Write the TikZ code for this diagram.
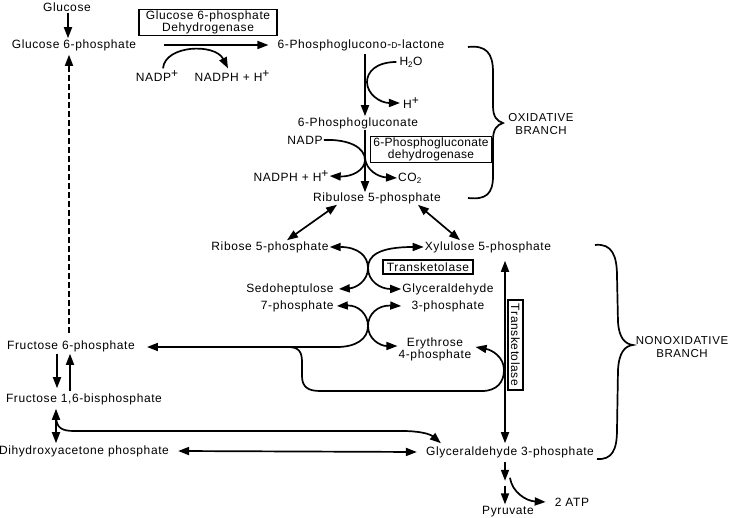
\documentclass[tikz,border=0pt]{standalone}
\usepackage{fontspec}
\setmainfont{Liberation Sans}[LetterSpace=5]
\usetikzlibrary{arrows.meta}
\newcommand\lbf{\fontsize{12}{14}\selectfont}
\newcommand\psup[1]{\raisebox{4pt}{\fontsize{12}{12}\selectfont #1}}
\tikzset{
  tip/.tip={Triangle[length=11pt,width=8pt]},
  ln/.style={line width=1.7pt},
  arr/.style={ln,-tip},
  darr/.style={ln,tip-tip},
  enz/.style={draw, line width=1.4pt, inner xsep=3pt, inner ysep=1.5pt, align=center},
  brl/.style={align=center, font=\fontsize{11.5}{13}\selectfont},
}
\begin{document}
\begin{tikzpicture}[x=1pt,y=-1pt, every node/.style={inner sep=1pt, font=\lbf}]
\useasboundingbox (0,0) rectangle (732,518);

% ---------- nodes ----------
\node (glc) at (67,7) {Glucose};
\node (g6p) at (74,45) {Glucose 6-phosphate};
\node[enz, minimum width=138pt, minimum height=25pt, font=\fontsize{12}{11.5}\selectfont] (g6pdh) at (208,22.5) {Glucose 6-phosphate\\Dehydrogenase};
\node (lac) at (361,45) {6-Phosphoglucono-{\fontsize{8.5}{9}\selectfont D}-lactone};
\node (nadp) at (157,76) {NADP\psup{+}};
\node (nadph1) at (232,76) {NADPH + H\psup{+}};
\node (h2o) at (411,62) {H\textsubscript{2}O};
\node (hp) at (411,103) {H\psup{+}};
\node (pg) at (358,123) {6-Phosphogluconate};
\node (nadp2) at (305,140) {NADP};
\node[enz, minimum width=118pt, minimum height=25pt, font=\fontsize{12}{10.5}\selectfont\addfontfeature{LetterSpace=2.5}] (pgdh) at (431,149.5) {6-Phosphogluconate\\dehydrogenase};
\node (nadph2) at (291,176) {NADPH + H\psup{+}};
\node (co2) at (410,178) {CO\textsubscript{2}};
\node (ru) at (377,198) {Ribulose 5-phosphate};
\node (rib) at (270,247) {Ribose 5-phosphate};
\node (xyl) at (488,247) {Xylulose 5-phosphate};
\node[enz, minimum width=90pt, minimum height=14pt] (tk1) at (428,267) {Transketolase};
\node[align=right, font=\fontsize{12}{17}\selectfont] (sedo) at (290,297.5) {Sedoheptulose\\7-phosphate};
\node[align=center, font=\fontsize{12}{17}\selectfont] (g3pa) at (448,297.5) {Glyceraldehyde\\3-phosphate};
\node[align=center, font=\fontsize{12}{11}\selectfont] (e4p) at (435,349) {Erythrose\\4-phosphate};
\node[enz, rotate=-90, minimum width=90pt, minimum height=15pt] (tk2) at (515.5,345) {Transketolase};
\node (f6p) at (71,346) {Fructose 6-phosphate};
\node (f16) at (84,399) {Fructose 1,6-bisphosphate};
\node (dhap) at (84,451) {Dihydroxyacetone phosphate};
\node (g3p) at (510,452) {Glyceraldehyde 3-phosphate};
\node (pyr) at (508,512) {Pyruvate};
\node (atp) at (572,502) {2 ATP};
\node[brl] (ox) at (541,124) {OXIDATIVE\\BRANCH};
\node[brl] (nonox) at (682,347) {NONOXIDATIVE\\BRANCH};

% ---------- oxidative branch ----------
\draw[arr] ([xshift=1]glc.south) -- ([xshift=1]glc.south |- g6p.north);
\draw[arr, dash pattern=on 6pt off 3pt] ([xshift=-2,yshift=6]f6p.north) -- ([xshift=-5,yshift=-3]g6p.south);
\draw[arr] ([xshift=27]g6p.east) -- ([xshift=-8]lac.west);
\draw[arr] ([xshift=6,yshift=1]nadp.north) .. controls (165,45) and (215,43) .. ([xshift=-4,yshift=1]nadph1.north);
\draw[arr] ([xshift=4,yshift=-2]lac.south) -- ([xshift=4]lac.south |- pg.north);
\draw[arr] ([xshift=-2]h2o.west) .. controls (376,62) and (367,72) .. (367,82)
  .. controls (367,94) and (380,103) .. ([xshift=-2]hp.west);
\draw[arr] ([xshift=7]pg.south) -- ([xshift=7,yshift=-1]pg.south |- ru.north);
\draw[arr] (nadp2.east) .. controls (350,139) and (365,148) .. (365,160)
  .. controls (365,170) and (352,177) .. (nadph2.east);
\draw[arr] (365,158) .. controls (366,170) and (378,177) .. (co2.west);

% ---------- nonoxidative branch ----------
\draw[darr] ([xshift=-40]ru.south) -- ([xshift=17]rib.north);
\draw[darr] ([xshift=41]ru.south) -- ([xshift=-28]xyl.north);
\draw[darr] (rib.east) .. controls (358,247) and (368,256) .. (368,268)
  .. controls (368,281) and (380,289) .. ([yshift=8.5]g3pa.west);
\draw[darr] (xyl.west) .. controls (378,247) and (368,256) .. (368,268)
  .. controls (368,281) and (356,288) .. ([xshift=4,yshift=8.5]sedo.east);
\draw[darr] ([xshift=2,yshift=-8.5]sedo.east) .. controls (358,305) and (368,314) .. (368,326)
  .. controls (368,339) and (380,346) .. ([yshift=3]e4p.west);
\draw[darr] ([yshift=-8.5]g3pa.west) .. controls (378,305) and (368,314) .. (368,326)
  .. controls (368,339) and (356,347) .. (337,347) -- ([xshift=11]f6p.east |- 0,347);
\coordinate (br) at (288,347);
\draw[arr] (br) .. controls (299,347) and (302,352) .. (302,362) -- (302,376)
  .. controls (302,387) and (308,391) .. (320,391) -- (482,391)
  .. controls (497,391) and (504,382) .. (504,370)
  .. controls (504,357) and (492,350) .. ([xshift=3,yshift=2]e4p.east);
\draw[darr] ([xshift=17,yshift=-7]xyl.south) -- ([xshift=-5,yshift=2]g3p.north);

% ---------- glycolysis side ----------
\draw[arr] ([xshift=-14,yshift=-1]f6p.south) -- ([xshift=-14,yshift=4]f6p.south |- f16.north);
\draw[arr] ([xshift=-1,yshift=1]f6p.south |- f16.north) -- ([xshift=-1,yshift=-1]f6p.south);
\draw[darr] ([xshift=-28,yshift=-3]f16.south) -- ([xshift=-28,yshift=1]f16.south |- dhap.north);
\coordinate (br2) at (56,416);
\draw[arr] (br2) .. controls (56,428) and (62,431) .. (74,431) -- (402,431)
  .. controls (420,431) and (430,434) .. ([xshift=16,yshift=2]g3p.north west);
\draw[darr] ([xshift=8]dhap.east) -- ([xshift=-8]g3p.west);
\draw[arr] ([xshift=-5,yshift=-3]g3p.south) -- ([xshift=-5,yshift=-22]g3p.south);
\draw[arr] ([xshift=-5,yshift=-27]g3p.south) -- ([xshift=-3,yshift=1]pyr.north);
\draw[arr] ([xshift=0,yshift=-19]g3p.south) .. controls (512,492) and (526,501) .. ([xshift=-8]atp.west);

% ---------- braces ----------
\draw[ln] (468,47) .. controls (486,45) and (493,53) .. (493,72) -- (493,106)
  .. controls (493,117) and (497,121) .. (503,123)
  .. controls (497,125) and (493,129) .. (493,140) -- (493,176)
  .. controls (493,194) and (486,200) .. (468,198);
\draw[ln] (595,245) .. controls (612,243) and (617,256) .. (617,276) -- (618,322)
  .. controls (619,338) and (625,344) .. (633,345)
  .. controls (625,346) and (619,352) .. (618,370) -- (617,430)
  .. controls (617,450) and (612,460) .. (597,459);
\end{tikzpicture}
\end{document}
